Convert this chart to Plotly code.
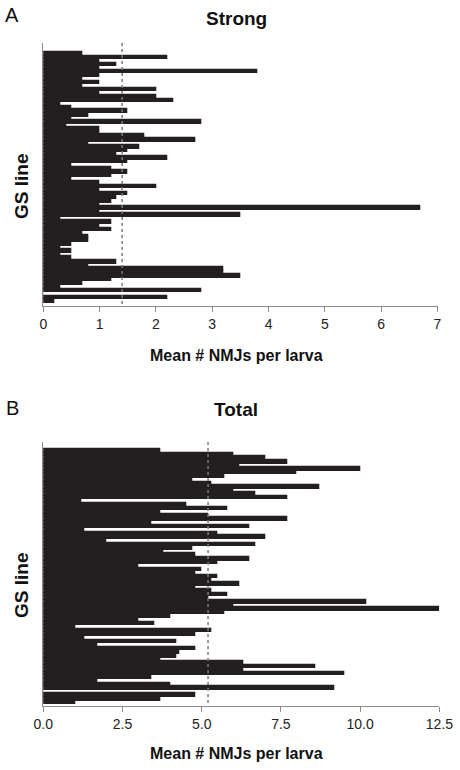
import plotly.graph_objects as go

# Panel A: mean number of strong NMJs per larva, GS lines top to bottom
strong = [0.7, 2.2, 1.0, 1.3, 1.0, 3.8, 1.0, 0.7, 1.0, 0.7,
          2.0, 1.0, 2.0, 2.3, 0.3, 0.5, 1.5, 0.8, 0.5, 2.8,
          0.4, 1.0, 1.0, 1.8, 2.7, 0.8, 1.7, 1.5, 1.3, 2.2,
          1.5, 0.5, 1.2, 1.5, 1.2, 0.5, 1.0, 2.0, 1.0, 1.5,
          1.3, 1.2, 1.0, 6.7, 1.0, 3.5, 0.3, 1.2, 1.0, 1.2,
          0.7, 0.8, 0.8, 0.5, 0.3, 0.5, 0.3, 0.5, 1.3, 0.8,
          3.2, 3.2, 3.5, 1.2, 0.7, 0.3, 2.8, 0.0, 2.2, 0.2]
strong_mean = 1.4

# Panel B: mean number of total NMJs per larva
total = [3.7, 6.0, 7.0, 7.7, 6.2, 10.0, 8.0, 5.7, 4.7, 5.3,
         8.7, 6.0, 6.7, 7.7, 1.2, 4.5, 5.8, 3.7, 5.2, 7.7,
         3.4, 6.5, 1.3, 5.5, 7.0, 2.0, 6.7, 4.7, 3.8, 4.8,
         6.5, 5.5, 3.0, 5.0, 4.8, 5.5, 5.3, 6.2, 4.8, 5.3,
         5.8, 5.2, 10.2, 6.0, 12.5, 5.7, 4.0, 3.0, 3.5, 1.0,
         5.3, 4.8, 1.3, 4.2, 1.7, 4.8, 4.3, 4.2, 3.7, 6.3,
         8.6, 6.3, 9.5, 3.4, 1.7, 4.0, 9.2, 0.0, 4.8, 3.7,
         1.0]
total_mean = 5.2

xticks_a = [0, 1, 2, 3, 4, 5, 6, 7]
xticks_b = [0, 2.5, 5, 7.5, 10, 12.5]
xlabels_b = ["0.0", "2.5", "5.0", "7.5", "10.0", "12.5"]

W, H = 460, 770
BAR = "#231f20"
AX = "#8a8a8a"
FONT = "Liberation Sans, Arial, sans-serif"


def px(x):
    return x / W


def py(y):
    return 1 - y / H


fig = go.Figure()
fig.add_trace(go.Bar(x=strong, y=list(range(len(strong))), orientation="h",
                     marker=dict(color=BAR, line=dict(color=BAR, width=1.3)),
                     xaxis="x", yaxis="y", showlegend=False))
fig.add_trace(go.Bar(x=total, y=list(range(len(total))), orientation="h",
                     marker=dict(color=BAR, line=dict(color=BAR, width=1.3)),
                     xaxis="x2", yaxis="y2", showlegend=False))

# mean lines
fig.add_trace(go.Scatter(x=[strong_mean, strong_mean], y=[-3.0, len(strong) + 0.35],
                         mode="lines", line=dict(color="#7a7a7a", width=1.5, dash="dot"),
                         xaxis="x", yaxis="y", showlegend=False))
fig.add_trace(go.Scatter(x=[total_mean, total_mean], y=[-2.5, len(total) + 0.1],
                         mode="lines", line=dict(color="#7a7a7a", width=1.5, dash="dot"),
                         xaxis="x2", yaxis="y2", showlegend=False))

nA, nB = len(strong), len(total)
axis_common = dict(showline=True, linecolor=AX, linewidth=1, showgrid=False,
                   zeroline=False, ticks="outside", ticklen=5, tickcolor=AX,
                   automargin=False,
                   tickfont=dict(family=FONT, size=14, color="#222"))
yaxis_common = dict(showline=True, linecolor=AX, linewidth=1, showgrid=False,
                    zeroline=False, showticklabels=False, ticks="", automargin=False)

fig.update_layout(
    width=W, height=H, margin=dict(l=0, r=0, t=0, b=0, pad=0),
    plot_bgcolor="white", paper_bgcolor="white", bargap=0,
    xaxis=dict(domain=[px(43.3), px(437.5)], range=[0, 7], anchor="y",
               tickvals=xticks_a, **axis_common),
    yaxis=dict(domain=[py(306), py(43)], range=[nA - 0.5 + 0.85, -3.0],
               anchor="x", **yaxis_common),
    xaxis2=dict(domain=[px(43.3), px(439.3)], range=[0, 12.5], anchor="y2",
                tickvals=xticks_b, ticktext=xlabels_b, **axis_common),
    yaxis2=dict(domain=[py(706), py(442)], range=[nB - 0.5 + 0.5, -2.5],
                anchor="x2", **yaxis_common),
)

ann = [
    dict(text="A", x=px(12), y=py(15), size=20),
    dict(text="<b>Strong</b>", x=px(236), y=py(18), size=19),
    dict(text="<b>Mean # NMJs per larva</b>", x=px(236), y=py(355), size=16),
    dict(text="B", x=px(12), y=py(408), size=20),
    dict(text="<b>Total</b>", x=px(236), y=py(410), size=19),
    dict(text="<b>Mean # NMJs per larva</b>", x=px(236), y=py(753), size=16),
]
for a in ann:
    fig.add_annotation(text=a["text"], x=a["x"], y=a["y"], xref="paper", yref="paper",
                       showarrow=False, xanchor="center", yanchor="middle",
                       font=dict(family=FONT, size=a["size"], color="#111"))
for yc in (187, 586):
    fig.add_annotation(text="<b>GS line</b>", x=px(21), y=py(yc), xref="paper", yref="paper",
                       showarrow=False, textangle=-90, xanchor="center", yanchor="middle",
                       font=dict(family=FONT, size=19, color="#111"))

fig.write_html("out.html", config={"displayModeBar": False},
               post_script="document.body.style.margin='0';document.body.style.overflow='hidden';")
